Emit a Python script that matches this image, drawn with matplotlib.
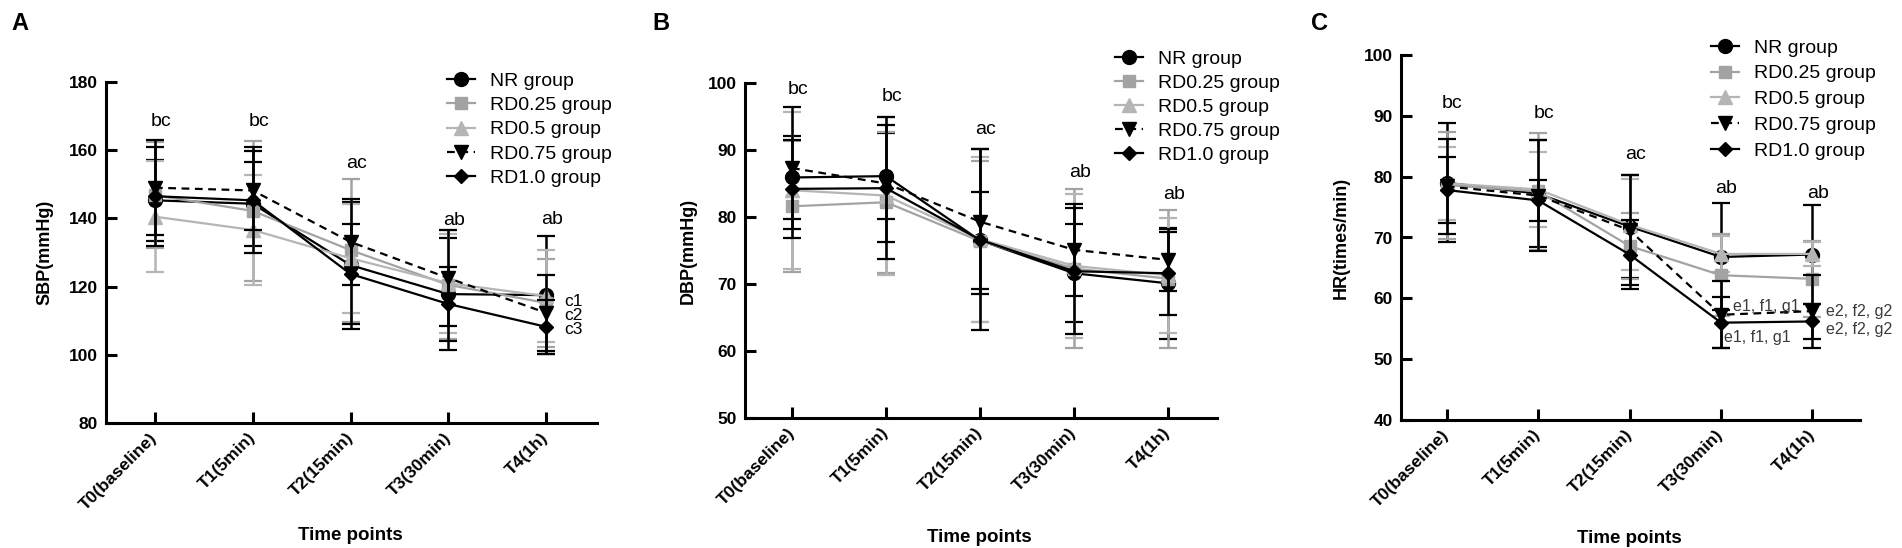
import matplotlib
matplotlib.use("Agg")
import matplotlib.pyplot as plt
import numpy as np

plt.rcParams['font.family'] = ['Liberation Sans', 'DejaVu Sans']

time_labels = ['T0(baseline)', 'T1(5min)', 'T2(15min)', 'T3(30min)', 'T4(1h)']
groups = ['NR group', 'RD0.25 group', 'RD0.5 group', 'RD0.75 group', 'RD1.0 group']

# SBP (mmHg), mean and SD
sbp_nr = [145.3, 144.3, 126.3, 117.8, 117.5]
sbp_nr_sd = [11.8, 12.3, 18.6, 16.5, 17.4]
sbp_r025 = [146.8, 142.2, 130.7, 120.5, 115.2]
sbp_r025_sd = [15.5, 20.5, 21.0, 16.0, 12.9]
sbp_r05 = [140.5, 136.6, 128.3, 121.0, 117.2]
sbp_r05_sd = [16.2, 16.0, 16.0, 14.5, 13.4]
sbp_r075 = [149.0, 148.2, 133.1, 122.5, 112.3]
sbp_r075_sd = [14.0, 11.5, 12.5, 14.0, 11.1]
sbp_r10 = [146.5, 145.3, 123.7, 114.9, 108.2]
sbp_r10_sd = [14.5, 15.5, 14.6, 10.8, 8.0]

# DBP (mmHg)
dbp_nr = [85.9, 86.1, 76.5, 71.6, 70.1]
dbp_nr_sd = [6.25, 6.4, 7.3, 7.3, 8.3]
dbp_r025 = [81.6, 82.2, 76.4, 72.3, 70.8]
dbp_r025_sd = [9.8, 10.5, 12.0, 11.9, 10.3]
dbp_r05 = [84.0, 83.2, 76.7, 72.7, 71.3]
dbp_r05_sd = [11.7, 11.8, 12.3, 10.8, 8.6]
dbp_r075 = [87.3, 85.0, 79.3, 75.1, 73.6]
dbp_r075_sd = [9.1, 8.8, 10.8, 6.9, 4.6]
dbp_r10 = [84.2, 84.3, 76.6, 71.9, 71.6]
dbp_r10_sd = [7.3, 10.6, 13.5, 9.4, 6.2]

# HR (times/min)
hr_nr = [79.0, 77.2, 71.8, 66.8, 67.2]
hr_nr_sd = [9.8, 8.8, 8.4, 8.8, 8.2]
hr_r025 = [78.6, 77.6, 68.6, 63.8, 63.2]
hr_r025_sd = [8.8, 9.6, 5.5, 6.7, 6.2]
hr_r05 = [78.9, 77.9, 72.1, 67.3, 67.3]
hr_r05_sd = [6.0, 6.2, 7.5, 3.0, 2.0]
hr_r075 = [78.4, 76.9, 71.2, 57.3, 57.9]
hr_r075_sd = [7.8, 9.2, 9.0, 5.5, 6.0]
hr_r10 = [77.8, 76.1, 67.2, 56.0, 56.2]
hr_r10_sd = [5.4, 3.4, 5.7, 4.2, 2.9]

# significance letters above each time point
sbp_sig = ['bc', 'bc', 'ac', 'ab', 'ab']
sbp_sig_y = [168.5, 168.3, 156.2, 139.5, 139.8]
dbp_sig = ['bc', 'bc', 'ac', 'ab', 'ab']
dbp_sig_y = [99.1, 98.0, 93.0, 86.6, 83.3]
hr_sig = ['bc', 'bc', 'ac', 'ab', 'ab']
hr_sig_y = [92.0, 90.4, 83.6, 78.1, 77.2]

sbp_end = ['c1', 'c2', 'c3']
sbp_end_y = [115.6, 111.6, 107.3]
hr_extra = ['e1, f1, g1', 'e1, f1, g1', 'e2, f2, g2', 'e2, f2, g2']
hr_extra_x = [3.13, 3.03, 4.15, 4.15]
hr_extra_y = [58.6, 53.6, 57.8, 54.8]

styles = [
    dict(color='black', marker='o', ms=10, ls='-'),
    dict(color='#a3a3a3', marker='s', ms=9, ls='-'),
    dict(color='#b5b5b5', marker='^', ms=10, ls='-'),
    dict(color='black', marker='v', ms=10, ls=(0, (3.5, 2.5))),
    dict(color='black', marker='D', ms=7.5, ls='-'),
]
draw_order = [2, 1, 0, 3, 4]

W, H = 1902, 548
fig = plt.figure(figsize=(W / 100, H / 100), dpi=100)


def px_axes(l, r, t, b):
    return fig.add_axes([l / W, 1 - b / H, (r - l) / W, (b - t) / H])


def panel(ax, means, sds, ylim, yticks, ylabel, ylab_x, xlab_y, sig, sig_y, leg_xy, leg_sp):
    x = np.arange(len(time_labels))
    handles = [None] * 5
    for i in draw_order:
        st = styles[i]
        ax.errorbar(x, means[i], yerr=sds[i], fmt='none', ecolor=st['color'],
                    elinewidth=1.8, capsize=6.5, capthick=1.6, zorder=2 + i)
        ln, = ax.plot(x, means[i], color=st['color'], marker=st['marker'], ms=st['ms'],
                      ls=st['ls'], lw=1.6, zorder=3 + i)
        handles[i] = ln
    ax.set_xlim(-0.5, 4.52)
    ax.set_ylim(*ylim)
    ax.set_yticks(yticks)
    ax.set_xticks(x)
    ax.set_xticklabels(time_labels, rotation=45, ha='right', va='center',
                       rotation_mode='anchor', fontsize=12.5, fontweight='bold')
    for lb in ax.get_yticklabels():
        lb.set_fontsize(12.5)
        lb.set_fontweight('bold')
    ax.tick_params(axis='both', direction='in', length=8, width=2.2, pad=6)
    ax.tick_params(axis='x', pad=9)
    for s in ['top', 'right']:
        ax.spines[s].set_visible(False)
    for s in ['left', 'bottom']:
        ax.spines[s].set_linewidth(2.2)
    ax.set_ylabel(ylabel, fontsize=13, fontweight='bold')
    ax.yaxis.set_label_coords(ylab_x, 0.5)
    ax.set_xlabel('Time points', fontsize=13.5, fontweight='bold')
    ax.xaxis.set_label_coords(0.497, xlab_y)
    for xi, (t, yv) in enumerate(zip(sig, sig_y)):
        ax.text(xi + 0.06, yv, t, ha='center', va='center', fontsize=14)
    ax.legend(handles, groups, loc='upper left',
              bbox_to_anchor=(leg_xy[0] / W, 1 - leg_xy[1] / H),
              bbox_transform=fig.transFigure, frameon=False, borderpad=0,
              borderaxespad=0, handlelength=1.45, handletextpad=0.75,
              labelspacing=leg_sp, fontsize=14)


axA = px_axes(106, 597, 82, 423)
panel(axA, [sbp_nr, sbp_r025, sbp_r05, sbp_r075, sbp_r10],
      [sbp_nr_sd, sbp_r025_sd, sbp_r05_sd, sbp_r075_sd, sbp_r10_sd],
      (80, 180), np.arange(80, 181, 20), 'SBP(mmHg)', -0.108, -0.305,
      sbp_sig, sbp_sig_y, (447, 72), 0.35)
for t, yv in zip(sbp_end, sbp_end_y):
    axA.text(4.19, yv, t, ha='left', va='center', fontsize=12.5, linespacing=0.9)

axB = px_axes(745, 1217, 83, 418)
panel(axB, [dbp_nr, dbp_r025, dbp_r05, dbp_r075, dbp_r10],
      [dbp_nr_sd, dbp_r025_sd, dbp_r05_sd, dbp_r075_sd, dbp_r10_sd],
      (50, 100), np.arange(50, 101, 10), 'DBP(mmHg)', -0.102, -0.331,
      dbp_sig, dbp_sig_y, (1115, 50), 0.33)

axC = px_axes(1401, 1860, 55, 420)
panel(axC, [hr_nr, hr_r025, hr_r05, hr_r075, hr_r10],
      [hr_nr_sd, hr_r025_sd, hr_r05_sd, hr_r075_sd, hr_r10_sd],
      (40, 100), np.arange(40, 101, 10), 'HR(times/min)', -0.111, -0.301,
      hr_sig, hr_sig_y, (1711, 39), 0.42)
for t, xv, yv in zip(hr_extra, hr_extra_x, hr_extra_y):
    axC.text(xv, yv, t, ha='left', va='center', fontsize=11.5, color='#3a3a3a',
             zorder=20)

for letter, xp in zip(['A', 'B', 'C'], [20, 661, 1319]):
    fig.text(xp / W, 1 - 23 / H, letter, ha='center', va='center',
             fontsize=17, fontweight='bold')

fig.savefig('out.png', dpi=100)
